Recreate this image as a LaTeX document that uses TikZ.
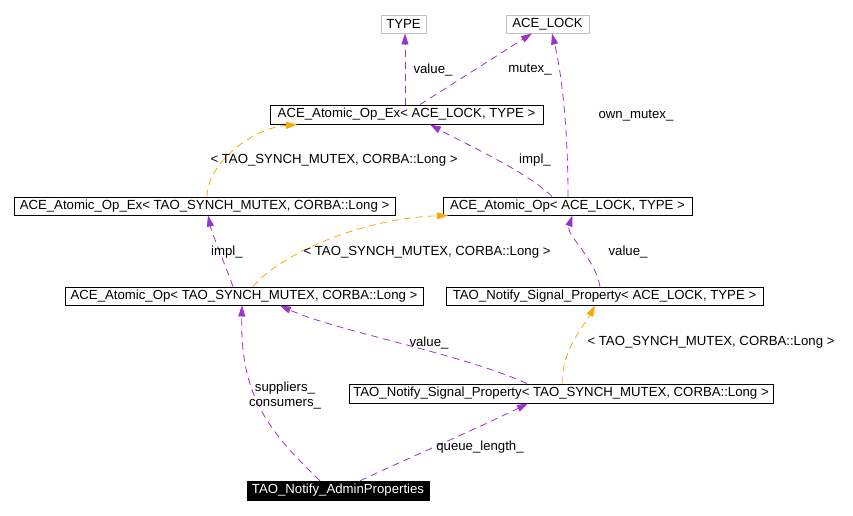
\documentclass[tikz,border=0pt]{standalone}
\usepackage{fontspec}
\setmainfont{Liberation Sans}
\usetikzlibrary{arrows.meta,calc}
\definecolor{edgepurple}{RGB}{154,50,205}
\definecolor{edgeorange}{RGB}{255,165,0}
\definecolor{boxgray}{RGB}{191,191,191}
\begin{document}
\begin{tikzpicture}[x=1pt,y=-1pt,
  every node/.style={font=\fontsize{13.2}{15}\selectfont},
  cls/.style={draw=black,line width=0.9pt,inner sep=0pt,fill=white},
  ext/.style={draw=boxgray,line width=0.9pt,inner sep=0pt,fill=white},
  main/.style={draw=black,fill=black,text=white,inner sep=0pt},
  rel/.style={edgepurple,line width=0.8pt,dash pattern=on 7pt off 5pt,-{Triangle[length=11pt,width=7pt]}},
  tmpl/.style={edgeorange,line width=0.8pt,dash pattern=on 7pt off 5pt,-{Triangle[length=11pt,width=7pt]}},
  lbl/.style={inner sep=0pt,align=center}]
\useasboundingbox (0,0) rectangle (853,515);
% nodes
\node[ext,minimum width=45pt,minimum height=18pt] (type) at (403.5,24) {TYPE};
\node[ext,minimum width=83pt,minimum height=18pt] (acelock) at (547.5,24) {ACE\_LOCK};
\node[cls,minimum width=273pt,minimum height=19pt] (aoexal) at (406.5,114.5) {ACE\_Atomic\_Op\_Ex< ACE\_LOCK, TYPE >};
\node[cls,minimum width=381pt,minimum height=18pt] (aoextmc) at (204.5,206) {ACE\_Atomic\_Op\_Ex< TAO\_SYNCH\_MUTEX, CORBA::Long >};
\node[cls,minimum width=249pt,minimum height=18pt] (aoal) at (567.5,206) {ACE\_Atomic\_Op< ACE\_LOCK, TYPE >};
\node[cls,minimum width=358pt,minimum height=18pt] (aotmc) at (244,296) {ACE\_Atomic\_Op< TAO\_SYNCH\_MUTEX, CORBA::Long >};
\node[cls,minimum width=317pt,minimum height=18pt] (nspal) at (604.5,296) {TAO\_Notify\_Signal\_Property< ACE\_LOCK, TYPE >};
\node[cls,minimum width=424pt,minimum height=19pt] (nsptmc) at (561,393.5) {TAO\_Notify\_Signal\_Property< TAO\_SYNCH\_MUTEX, CORBA::Long >};
\node[main,minimum width=182pt,minimum height=19pt] (admin) at (338,490.5) {TAO\_Notify\_AdminProperties};
% edges
\draw[rel] ([xshift=-1.5pt]aoexal.north) -- ([xshift=1.5pt]type.south);
\draw[rel] ([xshift=13.5pt]aoexal.north) -- ([xshift=-15.5pt]acelock.south);
\draw[rel] ([xshift=0.5pt]aoal.north) .. controls ([xshift=0.5pt,yshift=80pt]aoal.north) and ([xshift=12pt,yshift=-30pt]acelock.south) .. ([xshift=4.5pt]acelock.south);
\draw[rel] ([xshift=-15.5pt]aoal.north) .. controls ([xshift=-40pt,yshift=25pt]aoal.north) and ([xshift=50pt,yshift=-15pt]aoexal.south) .. ([xshift=23.5pt]aoexal.south);
\draw[tmpl] ([xshift=2.5pt]aoextmc.north) .. controls ([xshift=2.5pt,yshift=32pt]aoextmc.north) and ([xshift=-156pt,yshift=-4pt]aoexal.south) .. ([xshift=-109.5pt]aoexal.south);
\draw[rel] ([xshift=-11pt]aotmc.north) .. controls ([xshift=-20pt,yshift=25pt]aotmc.north) and ([xshift=8pt,yshift=-20pt]aoextmc.south) .. ([xshift=3.5pt]aoextmc.south);
\draw[tmpl] ([xshift=9pt]aotmc.north) .. controls ([xshift=36pt,yshift=32pt]aotmc.north) and ([xshift=-207pt,yshift=-3pt]aoal.south) .. ([xshift=-119.5pt]aoal.south);
\draw[rel] ([xshift=-4.5pt]nspal.north) .. controls ([xshift=-10pt,yshift=30pt]nspal.north) and ([xshift=-2pt,yshift=-20pt]aoal.south) .. ([xshift=5pt]aoal.south);
\draw[tmpl] ([xshift=1pt]nsptmc.north) .. controls ([xshift=1pt,yshift=35pt]nsptmc.north) and ([xshift=-20pt,yshift=-20pt]nspal.south) .. ([xshift=-9.5pt]nspal.south);
\draw[rel] ([xshift=-34pt]nsptmc.north) .. controls ([xshift=-100pt,yshift=30pt]nsptmc.north) and ([xshift=90pt,yshift=-25pt]aotmc.south) .. ([xshift=36pt]aotmc.south);
\draw[rel] ([xshift=-18pt]admin.north) .. controls ([xshift=-70pt,yshift=50pt]admin.north) and ([xshift=-4pt,yshift=-90pt]aotmc.south) .. ([xshift=-2pt]aotmc.south);
\draw[rel] ([xshift=22pt]admin.north) .. controls ([xshift=75pt,yshift=25pt]admin.north) and ([xshift=-90pt,yshift=-28pt]nsptmc.south) .. ([xshift=-33pt]nsptmc.south);
% labels
\node[lbl] (l1) at (433,70) {value\_};
\node[lbl] (l2) at (530,70) {mutex\_};
\node[lbl] (l3) at (636,116) {own\_mutex\_};
\node[lbl] (l4) at (535,160) {impl\_};
\node[lbl] (l5) at (334,160) {< TAO\_SYNCH\_MUTEX, CORBA::Long >};
\node[lbl] (l6) at (227,252) {impl\_};
\node[lbl] (l7) at (427,252) {< TAO\_SYNCH\_MUTEX, CORBA::Long >};
\node[lbl] (l8) at (628,252) {value\_};
\node[lbl] (l9) at (711,342) {< TAO\_SYNCH\_MUTEX, CORBA::Long >};
\node[lbl] (l10) at (429,343) {value\_};
\node[lbl] (l11) at (285,396) {suppliers\_\\consumers\_};
\node[lbl] (l12) at (480,447) {queue\_length\_};
\end{tikzpicture}
\end{document}
